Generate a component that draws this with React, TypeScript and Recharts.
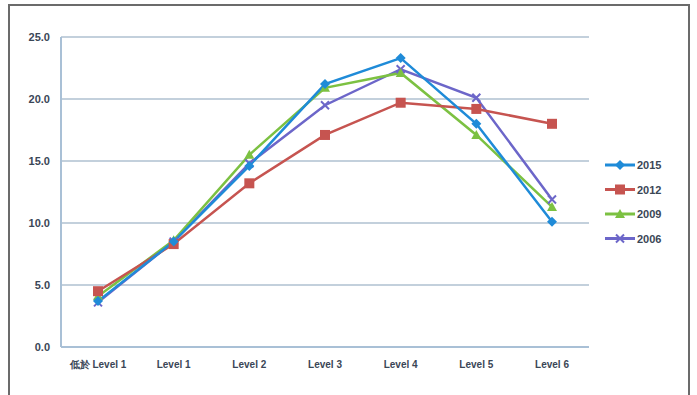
import { LineChart, Line, XAxis, YAxis, CartesianGrid } from "recharts";

const levels = ["低於 Level 1", "Level 1", "Level 2", "Level 3", "Level 4", "Level 5", "Level 6"];
const y2015 = [3.7, 8.5, 14.6, 21.2, 23.3, 18.0, 10.1];
const y2012 = [4.5, 8.3, 13.2, 17.1, 19.7, 19.2, 18.0];
const y2009 = [4.1, 8.6, 15.5, 20.9, 22.1, 17.1, 11.3];
const y2006 = [3.6, 8.5, 14.8, 19.5, 22.4, 20.1, 11.9];
const yTicks = [0, 5, 10, 15, 20, 25];

const data = levels.map((level, i) => ({
  level,
  y2015: y2015[i],
  y2012: y2012[i],
  y2009: y2009[i],
  y2006: y2006[i],
}));

const BLUE = "#1f8bd8";
const RED = "#c65450";
const GREEN = "#7cc142";
const PURPLE = "#6c66c9";
const TEXT = "#3a4656";
const FONT = "Liberation Sans, Arial, sans-serif";

const shape = (kind: string, cx: number, cy: number, color: string, key?: string) => {
  if (kind === "diamond") {
    return <path key={key} d={`M${cx},${cy - 5}L${cx + 5},${cy}L${cx},${cy + 5}L${cx - 5},${cy}Z`} fill={color} />;
  }
  if (kind === "square") {
    return <rect key={key} x={cx - 5} y={cy - 5} width={10} height={10} fill={color} />;
  }
  if (kind === "triangle") {
    return <path key={key} d={`M${cx},${cy - 5}L${cx + 5},${cy + 4}L${cx - 5},${cy + 4}Z`} fill={color} />;
  }
  return (
    <path key={key} d={`M${cx - 4},${cy - 4}L${cx + 4},${cy + 4}M${cx + 4},${cy - 4}L${cx - 4},${cy + 4}`} stroke={color} strokeWidth={2} />
  );
};

const series = [
  { key: "y2015", name: "2015", color: BLUE, kind: "diamond" },
  { key: "y2012", name: "2012", color: RED, kind: "square" },
  { key: "y2009", name: "2009", color: GREEN, kind: "triangle" },
  { key: "y2006", name: "2006", color: PURPLE, kind: "x" },
];

const LegendBox = () => (
  <svg width={80} height={100} style={{ position: "absolute", left: 603, top: 155 }}>
    {series.map((s, i) => (
      <g key={s.key}>
        <line x1={2} x2={32} y1={10 + i * 24.5} y2={10 + i * 24.5} stroke={s.color} strokeWidth={3} />
        {shape(s.kind, 17, 10 + i * 24.5, s.color)}
        <text x={34} y={14 + i * 24.5} fontSize={11} fontWeight="bold" fill={TEXT} fontFamily={FONT}>
          {s.name}
        </text>
      </g>
    ))}
  </svg>
);

export default function App() {
  return (
    <div style={{ position: "fixed", left: 0, top: 0, width: 697, height: 395, background: "#fff" }}>
      <div
        style={{
          position: "absolute",
          left: 8,
          top: 4,
          width: 682,
          height: 400,
          border: "2px solid #6b6b6b",
          borderBottom: "none",
          boxSizing: "border-box",
        }}
      />
      <div style={{ position: "absolute", left: 0, top: 0 }}>
        <LineChart width={697} height={395} data={data} margin={{ top: 37, right: 108, bottom: 18, left: 0 }}>
          <CartesianGrid vertical={false} stroke="#c3d0dc" strokeWidth={2} />
          <XAxis
            dataKey="level"
            height={30}
            padding={{ left: 37, right: 37 }}
            axisLine={{ stroke: "#a9c0d6", strokeWidth: 2 }}
            tickLine={false}
            tickMargin={8}
            interval={0}
            tick={{ fontSize: 10, fontWeight: "bold", fill: TEXT, fontFamily: FONT }}
          />
          <YAxis
            width={61}
            domain={[0, 25]}
            ticks={yTicks}
            tickFormatter={(v: number) => v.toFixed(1)}
            axisLine={{ stroke: "#a9c0d6", strokeWidth: 2 }}
            tickLine={false}
            tickSize={0}
            tickMargin={11}
            tick={{ fontSize: 11, fontWeight: "bold", fill: TEXT, fontFamily: FONT }}
          />
          {[...series].reverse().map((s) => (
            <Line
              key={s.key}
              dataKey={s.key}
              name={s.name}
              type="linear"
              stroke={s.color}
              strokeWidth={2.5}
              isAnimationActive={false}
              dot={(p: any) => shape(s.kind, p.cx, p.cy, s.color, `${s.key}-${p.index}`)}
              activeDot={false}
            />
          ))}
        </LineChart>
      </div>
      <LegendBox />
    </div>
  );
}
